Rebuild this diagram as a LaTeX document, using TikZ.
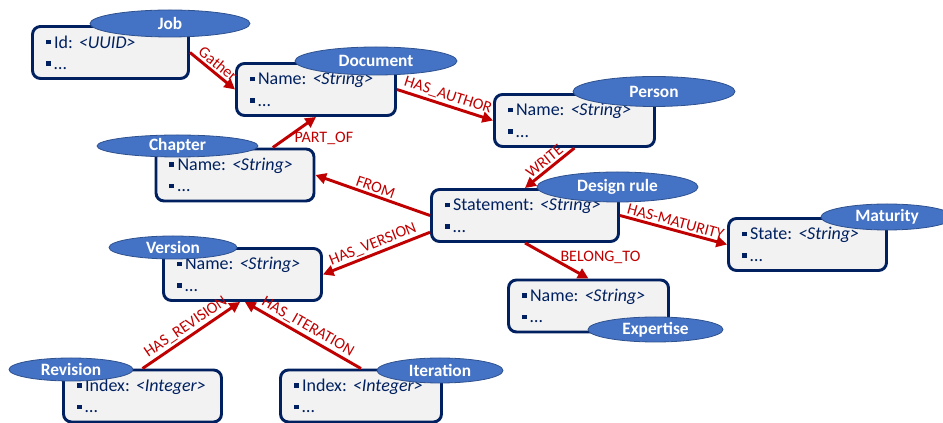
\documentclass[tikz,border=0pt]{standalone}
\usepackage{fontspec}
\setmainfont{Carlito}
\usetikzlibrary{shapes.geometric,arrows.meta}
\definecolor{boxnavy}{RGB}{0,32,96}
\definecolor{boxfill}{RGB}{242,242,242}
\definecolor{hdrblue}{RGB}{68,114,196}
\definecolor{hdrline}{RGB}{47,82,143}
\definecolor{relred}{RGB}{192,0,0}
\newcommand{\sqbul}{\rule[0.2em]{0.26em}{0.26em}\hspace{0.2em}}
\newcommand{\attrib}[2]{\sqbul#1:\ \textit{<#2>}\\\sqbul\dots}

\begin{document}
\begin{tikzpicture}[x=0.75pt,y=-0.75pt,
  entity/.style={draw=boxnavy, line width=2.2pt, fill=boxfill, rounded corners=6pt, text=boxnavy, align=left, inner xsep=10pt, inner ysep=2pt, minimum height=39pt, text width=#1, font=\fontsize{13.5}{16}\selectfont},
  hdr/.style n args={2}{ellipse, draw=hdrline, line width=0.6pt, fill=hdrblue, text=white, inner sep=0pt, minimum width=#1, minimum height=#2, font=\bfseries\fontsize{13}{15}\selectfont},
  rel/.style={draw=relred, line width=2.2pt, -{Triangle[length=8pt,width=8pt]}},
  reltext/.style={text=relred, inner sep=1.5pt, font=\fontsize{12}{13}\selectfont}]
\useasboundingbox (0,0) rectangle (943,423);

% Entity boxes
\node[entity=97pt] (job) at (110.5,52.5) {\attrib{Id}{UUID}};
\node[entity=99.25pt] (doc) at (316,89.5) {\attrib{Name}{String}};
\node[entity=98.5pt] (chap) at (235,175) {\attrib{Name}{String}};
\node[entity=100pt] (person) at (574.5,120.5) {\attrib{Name}{String}};
\node[entity=120.25pt] (rule) at (525,215.5) {\attrib{Statement}{String}};
\node[entity=98.5pt] (mat) at (807.5,244.5) {\attrib{State}{String}};
\node[entity=100pt] (exp) at (588.5,306) {\attrib{Name}{String}};
\node[entity=98.5pt] (ver) at (242.5,274.5) {\attrib{Name}{String}};
\node[entity=98.5pt] (rev) at (142.5,396) {\attrib{Index}{Integer}};
\node[entity=100.75pt] (iter) at (361,396) {\attrib{Index}{Integer}};

% Relations
\draw[rel] (job.east) -- node[reltext, sloped, above] {Gather} (doc.west);
\draw[rel] (doc.east) -- node[reltext, sloped, above] {HAS\_AUTHOR} (person.west);
\draw[rel] (chap.36) -- node[reltext, right=4pt, pos=.3] {PART\_OF} (doc.south);
\draw[rel] (rule.west) -- node[reltext, sloped, above] {FROM} (chap.east);
\draw[rel] (person.south) -- node[reltext, sloped, above] {WRITE} (rule.north);
\draw[rel] (rule.east) -- node[reltext, sloped, above] {HAS-MATURITY} (mat.west);
\draw[rel] (rule.south) -- node[reltext, right=5pt, pos=.4] {BELONG\_TO} (exp.north);
\draw[rel] (rule.190) -- node[reltext, sloped, above] {HAS\_VERSION} (ver.east);
\draw[rel] (rev.north) -- node[reltext, sloped, above] {HAS\_REVISION} (ver.265);
\draw[rel] (iter.north) -- node[reltext, sloped, above] {HAS\_ITERATION} (ver.275);

% Entity names
\node[hdr={120pt}{20.25pt}] (jobhdr) at (170,23.5) {Job};
\node[hdr={121.5pt}{21pt}] (dochdr) at (376,61) {Document};
\node[hdr={120.75pt}{16.5pt}] (chaphdr) at (177.5,146) {Chapter};
\node[hdr={121.5pt}{22.5pt}] (personhdr) at (654,91.5) {Person};
\node[hdr={120.75pt}{22.5pt}] (rulehdr) at (617.5,187) {Design rule};
\node[hdr={99pt}{19.5pt}] (mathdr) at (887,217) {Maturity};
\node[hdr={101.25pt}{18.75pt}] (exphdr) at (655.5,329.5) {Expertise};
\node[hdr={96pt}{17.25pt}] (verhdr) at (173,247.5) {Version};
\node[hdr={93pt}{17.25pt}] (revhdr) at (71,369.5) {Revision};
\node[hdr={94.5pt}{18.75pt}] (iterhdr) at (440,370.5) {Iteration};
\end{tikzpicture}
\end{document}
